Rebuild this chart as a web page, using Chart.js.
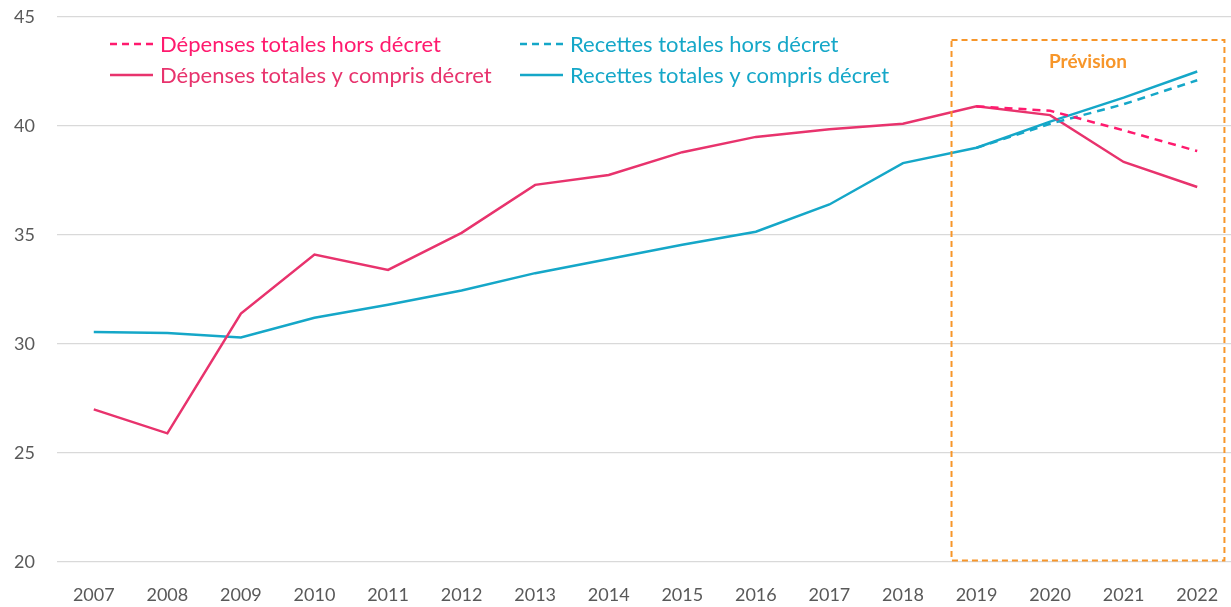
<!DOCTYPE html>
<html>
<head>
<meta charset="utf-8">
<script src="https://cdn.jsdelivr.net/npm/chart.js@4/dist/chart.umd.min.js"></script>
<style>
  html, body { margin: 0; padding: 0; background: #fff; overflow: hidden; }
  #wrap { width: 1234px; height: 607px; position: relative; }
</style>
</head>
<body>
<div id="wrap"><canvas id="myChart"></canvas></div>
<script>
const years = ['2007','2008','2009','2010','2011','2012','2013','2014','2015','2016','2017','2018','2019','2020','2021','2022'];
const depensesCompris = [27.0, 25.9, 31.4, 34.1, 33.4, 35.1, 37.3, 37.75, 38.8, 39.5, 39.85, 40.1, 40.9, 40.5, 38.35, 37.2];
const recettesCompris = [30.55, 30.5, 30.3, 31.2, 31.8, 32.45, 33.25, 33.9, 34.55, 35.15, 36.4, 38.3, 39.0, 40.2, 41.3, 42.5];
const depensesHors = [null, null, null, null, null, null, null, null, null, null, null, null, 40.9, 40.7, 39.8, 38.85];
const recettesHors = [null, null, null, null, null, null, null, null, null, null, null, null, 39.0, 40.1, 41.0, 42.1];
const yTicks = [20, 25, 30, 35, 40, 45];

const PINK = '#E8336D';
const PINK_DASH = '#FF1A6E';
const CYAN = '#15A7C8';
const ORANGE = '#F7962A';
const FONT = 'Lato, "Open Sans", sans-serif';
const LEGEND_FONT = 'Lato, "Open Sans", sans-serif';

// box "Prévision" in data units (category index / y value)
const prevision = {from: 11.66, to: 15.37, top: 43.95, bottom: 20.07, label: 'Prévision'};

const legendItems = [
  {text: 'Dépenses totales hors décret', color: PINK_DASH, dash: [7, 5], col: 0, row: 0},
  {text: 'Dépenses totales y compris décret', color: PINK, dash: [], col: 0, row: 1},
  {text: 'Recettes totales hors décret', color: CYAN, dash: [7, 5], col: 1, row: 0},
  {text: 'Recettes totales y compris décret', color: CYAN, dash: [], col: 1, row: 1}
];

const boxPlugin = {
  id: 'previsionBox',
  afterDatasetsDraw(chart) {
    const {ctx, scales: {x, y}} = chart;
    const l = x.getPixelForValue(prevision.from), r = x.getPixelForValue(prevision.to);
    const t = y.getPixelForValue(prevision.top), b = y.getPixelForValue(prevision.bottom);
    ctx.save();
    ctx.strokeStyle = ORANGE;
    ctx.lineWidth = 2;
    ctx.setLineDash([6, 4]);
    ctx.strokeRect(l, t, r - l, b - t);
    ctx.setLineDash([]);
    ctx.fillStyle = ORANGE;
    ctx.font = 'bold 19px ' + FONT;
    ctx.textAlign = 'center';
    ctx.textBaseline = 'middle';
    ctx.fillText(prevision.label, (l + r) / 2, t + 22);
    ctx.restore();
  }
};

const legendPlugin = {
  id: 'innerLegend',
  afterDraw(chart) {
    const ctx = chart.ctx;
    const colX = [110, 520], rowY = [44, 75];
    ctx.save();
    ctx.font = '22px ' + LEGEND_FONT;
    ctx.textBaseline = 'middle';
    legendItems.forEach(it => {
      const x0 = colX[it.col], yy = rowY[it.row];
      ctx.strokeStyle = it.color;
      ctx.lineWidth = 2.5;
      ctx.setLineDash(it.dash);
      ctx.beginPath();
      ctx.moveTo(x0, yy);
      ctx.lineTo(x0 + 43, yy);
      ctx.stroke();
      ctx.setLineDash([]);
      ctx.fillStyle = it.color;
      ctx.fillText(it.text, x0 + 50, yy + 1);
    });
    ctx.restore();
  }
};

const ctx = document.getElementById('myChart').getContext('2d');
const data = {
  labels: years,
  datasets: [
    {
      label: 'Dépenses totales hors décret',
      data: depensesHors,
      borderColor: PINK_DASH,
      borderDash: [8, 6],
      borderWidth: 2.5,
      pointRadius: 0,
      order: 0
    },
    {
      label: 'Recettes totales hors décret',
      data: recettesHors,
      borderColor: CYAN,
      borderDash: [8, 6],
      borderWidth: 2.5,
      pointRadius: 0,
      order: 1
    },
    {
      label: 'Dépenses totales y compris décret',
      data: depensesCompris,
      borderColor: PINK,
      borderWidth: 2.5,
      pointRadius: 0,
      order: 2
    },
    {
      label: 'Recettes totales y compris décret',
      data: recettesCompris,
      borderColor: CYAN,
      borderWidth: 2.5,
      pointRadius: 0,
      order: 3
    }
  ]
};

const config = {
  type: 'line',
  data: data,
  options: {
    responsive: true,
    maintainAspectRatio: false,
    animation: false,
    spanGaps: false,
    layout: {padding: {top: 17, right: 0, left: 0, bottom: 0}},
    plugins: {
      legend: {display: false},
      tooltip: {enabled: false}
    },
    scales: {
      x: {
        offset: true,
        grid: {display: false},
        border: {display: false},
        ticks: {color: '#595959', font: {family: FONT, size: 18}, padding: 14, maxRotation: 0, autoSkip: false},
        afterFit(scale) { scale.height = 45; scale.paddingLeft = 0; scale.paddingRight = 0; }
      },
      y: {
        min: 20,
        max: 45,
        afterBuildTicks(scale) { scale.ticks = yTicks.map(v => ({value: v})); },
        grid: {color: '#D9D9D9', lineWidth: 1.3, drawTicks: false},
        border: {display: false},
        ticks: {color: '#595959', font: {family: FONT, size: 18}, padding: 22},
        afterFit(scale) { scale.width = 57; scale.paddingTop = 0; scale.paddingBottom = 0; }
      }
    }
  },
  plugins: [boxPlugin, legendPlugin]
};
const myChart = new Chart(ctx, config);
</script>
</body>
</html>
